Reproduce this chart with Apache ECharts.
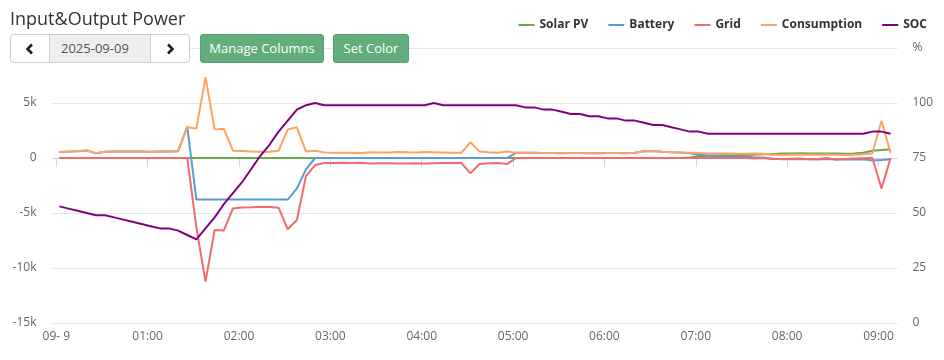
<!DOCTYPE html>
<html><head><meta charset="utf-8">
<script src="https://cdn.jsdelivr.net/npm/echarts@6/dist/echarts.min.js"></script>
<style>
html,body{margin:0;padding:0;background:#fff;}
#wrap{position:relative;width:944px;height:360px;font-family:'Open Sans',sans-serif;overflow:hidden;}
#chart{position:absolute;left:0;top:0;width:944px;height:360px;}
.ctl{position:absolute;top:34px;height:29px;box-sizing:border-box;}
#datebox{left:10px;width:180px;border:1px solid #ccc;border-radius:4px;background:#fff;display:flex;overflow:hidden;}
#datebox .arr{width:38px;display:flex;align-items:center;justify-content:center;}
#datebox .mid{width:102px;background:#eee;border-left:1px solid #ccc;border-right:1px solid #ccc;font-size:13px;color:#555;line-height:27px;padding-left:11px;box-sizing:border-box;}
.gbtn{background:#62ad7c;border:1px solid #58a070;border-radius:3px;color:#fff;font-size:13px;line-height:27px;text-align:center;}
</style></head><body>
<div id="wrap">
<div id="chart"></div>
<div class="ctl" id="datebox">
  <div class="arr"><svg width="10" height="12" viewBox="0 0 10 12"><polyline points="7,1.5 2.5,6 7,10.5" fill="none" stroke="#222" stroke-width="2.6"/></svg></div>
  <div class="mid">2025-09-09</div>
  <div class="arr"><svg width="10" height="12" viewBox="0 0 10 12"><polyline points="3,1.5 7.5,6 3,10.5" fill="none" stroke="#222" stroke-width="2.6"/></svg></div>
</div>
<div class="ctl gbtn" style="left:200px;width:124px;">Manage Columns</div>
<div class="ctl gbtn" style="left:333px;width:76px;">Set Color</div>
</div>
<script>
// Sampling: first sample 2025-09-09 00:02, one sample every 6 minutes (92 samples)
const startTime = new Date(2025, 8, 9, 0, 2, 0).getTime();
const stepMs = 6 * 60 * 1000;

const seriesNames = ['Solar PV', 'Battery', 'Grid', 'Consumption', 'SOC'];

const solarPV = [
  0,0,0,0,0,0,0,0,0,0,0,0,0,0,0,0,0,0,0,0,
  0,0,0,0,0,0,0,0,0,0,0,0,0,0,0,0,0,0,0,0,
  0,0,0,0,0,0,0,0,0,0,0,0,0,0,0,0,0,0,0,0,
  0,0,0,0,0,0,0,0,0,
  40,150,200,240,250,260,280,300,330,350,400,420,430,420,420,400,410,380,400,480,650,730,790
];
const battery = [
  550,580,620,680,430,560,600,600,600,580,560,580,600,620,
  2850,
  -3780,-3780,-3780,-3780,-3780,-3780,-3780,-3780,-3780,-3780,-3780,
  -2760,-1030,
  0,0,0,0,0,0,0,0,0,0,0,0,0,0,0,0,0,0,0,0,0,0,
  470,480,470,450,460,430,450,460,440,430,460,450,430,470,620,640,560,520,500,440,
  300,220,160,150,120,110,60,50,-50,-120,-120,-110,-120,-130,-80,-110,-140,-130,-120,-230,-180,-120
];
const grid = [
  0,0,0,0,0,0,0,0,0,0,0,0,0,0,0,
  -6300,-11240,-6550,-6600,-4580,-4500,-4480,-4450,-4460,-4520,-6480,-5640,-1640,-640,
  -450,-450,-440,-450,-430,-500,-480,-470,-500,-490,-470,-500,-480,-460,-450,-440,-1390,-550,-480,-460,-550,
  0,0,0,0,0,0,0,0,0,0,0,0,0,0,0,0,0,0,0,0,0,0,0,0,0,0,
  -50,0,-80,-100,-60,-40,-120,-80,0,-150,-100,-50,-20,0,-2760,0
];
const consumption = [
  550,580,620,680,430,560,600,600,600,580,560,580,600,620,
  2790,2670,7330,2600,2670,660,630,600,560,570,660,2600,2790,580,660,
  500,480,470,470,460,520,500,510,540,520,500,540,520,500,480,470,1430,580,520,480,600,
  470,480,470,450,460,430,450,460,440,430,460,450,430,470,620,640,560,520,500,480,
  450,420,400,400,380,390,410,380,300,280,300,320,300,290,320,300,280,300,330,430,3390,430
];
const soc = [
  53,52,51,50,49,49,48,47,46,45,44,43,43,42,40,38,
  43,48,54,59,64,70,76,81,87,92,97,99,100,99,
  99,99,99,99,99,99,99,99,99,99,99,100,99,99,99,99,99,99,99,99,
  99,98,98,97,97,96,95,95,94,94,93,93,92,92,91,90,90,89,88,87,87,
  86,86,86,86,86,86,86,86,86,86,86,86,86,86,86,86,86,86,
  87,87,86
];

const leftTicks = { min: -15000, max: 10000, step: 5000 };
const rightTicks = { min: 0, max: 125, step: 25 };
const colors = ['#6aa84a', '#5b9bd5', '#f26b6b', '#ffa35e', '#800080'];

const toPairs = arr => arr.map((v, i) => [startTime + i * stepMs, v]);

const chart = echarts.init(document.getElementById('chart'), null, { renderer: 'canvas' });
const FONT = "'Open Sans', sans-serif";
const axisMin = new Date(2025, 8, 8, 23, 57, 30).getTime();
const axisMax = new Date(2025, 8, 9, 9, 12, 30).getTime();

function pad2(n) { return (n < 10 ? '0' : '') + n; }

const allData = [solarPV, battery, grid, consumption, soc];

chart.setOption({
  animation: false,
  color: colors,
  title: {
    text: 'Input&Output Power', left: 5, top: 6,
    textStyle: { fontFamily: FONT, fontSize: 18, fontWeight: 'normal', color: '#333' }
  },
  legend: {
    data: seriesNames, right: 12, top: 14, icon: 'rect', itemWidth: 16, itemHeight: 2, itemGap: 20,
    textStyle: { fontFamily: FONT, fontSize: 12, fontWeight: 'bold', color: '#333' }
  },
  grid: { left: 52.5, right: 46.5, top: 48, bottom: 37 },
  xAxis: {
    type: 'time', min: axisMin, max: axisMax,
    minInterval: 3600000, maxInterval: 3600000,
    axisLine: { lineStyle: { color: '#ccd6eb' } },
    axisTick: { show: true, length: 9, lineStyle: { color: '#ccd6eb' } },
    splitLine: { show: false },
    axisLabel: {
      margin: 8, fontFamily: FONT, fontSize: 12, color: '#666',
      showMinLabel: false, showMaxLabel: false,
      formatter: function (value) {
        const d = new Date(value);
        if (d.getHours() === 0 && d.getMinutes() === 0) {
          const day = String(d.getDate());
          return pad2(d.getMonth() + 1) + '-' + (day.length < 2 ? ' ' + day : day);
        }
        return pad2(d.getHours()) + ':' + pad2(d.getMinutes());
      }
    }
  },
  yAxis: [
    {
      type: 'value', min: leftTicks.min, max: leftTicks.max, interval: leftTicks.step,
      axisLine: { show: false }, axisTick: { show: false },
      splitLine: { lineStyle: { color: '#e6e6e6' } },
      axisLabel: {
        margin: 16, fontFamily: FONT, fontSize: 12, color: '#666',
        formatter: v => v === leftTicks.max ? '' : (v === 0 ? '0' : (v / 1000) + 'k')
      }
    },
    {
      type: 'value', min: rightTicks.min, max: rightTicks.max, interval: rightTicks.step,
      axisLine: { show: false }, axisTick: { show: false }, splitLine: { show: false },
      axisLabel: {
        margin: 15, fontFamily: FONT, fontSize: 12, color: '#666',
        formatter: v => v === rightTicks.max ? '%' : String(v)
      }
    }
  ],
  series: seriesNames.map((name, i) => ({
    name: name, type: 'line', yAxisIndex: i === 4 ? 1 : 0,
    data: toPairs(allData[i]), symbol: 'none', showSymbol: false,
    lineStyle: { width: 2, color: colors[i] }, itemStyle: { color: colors[i] }
  }))
});
</script>
</body></html>
